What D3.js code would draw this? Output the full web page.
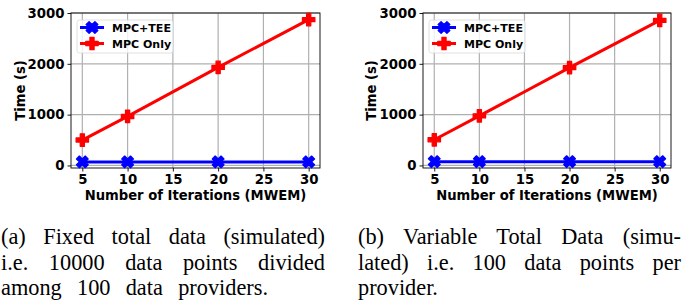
<!DOCTYPE html>
<html>
<head>
<meta charset="utf-8">
<script src="https://cdn.jsdelivr.net/npm/d3@7"></script>
<style>
  body { margin: 0; background: #fff; }
  svg { display: block; }
</style>
</head>
<body>
<svg id="fig"></svg>
<script>
const iterations = [5, 10, 20, 30];
const xTicks = [5, 10, 15, 20, 25, 30];
const yTicks = [0, 1000, 2000, 3000];
const seriesNames = ["MPC+TEE", "MPC Only"];

// (a) fixed total data
const fixedTee = [70, 70, 70, 70];
const fixedMpc = [500, 965, 1930, 2870];
// (b) variable total data
const variableTee = [75, 75, 75, 75];
const variableMpc = [505, 975, 1925, 2855];

const captionA = ["(a) Fixed total data (simulated)", "i.e. 10000 data points divided", "among 100 data providers."];
const captionB = ["(b) Variable Total Data (simu-", "lated) i.e. 100 data points per", "provider."];

const sansFont = "'DejaVu Sans', sans-serif";
const serifFont = "'Liberation Serif', 'Times New Roman', serif";
let fs = {};

// font size that gives str the wanted width, whatever face gets picked
function fitSize(svg, str, family, bold, want) {
  const t = svg.append("text")
    .style("font-family", family)
    .style("font-weight", bold ? "bold" : "normal")
    .style("font-size", "20px")
    .text(str);
  const w = t.node().getComputedTextLength();
  t.remove();
  return 20 * want / w;
}

function main() {
  const width = 692, height = 301;
  const svg = d3.select("#fig").attr("width", width).attr("height", height);

  fs.tick = fitSize(svg, "3000", sansFont, true, 37);
  fs.label = fitSize(svg, "Number of Iterations (MWEM)", sansFont, true, 222);
  fs.legend = fitSize(svg, "MPC+TEE", sansFont, true, 59);
  fs.caption = fitSize(svg, "provider.", serifFont, false, 80);

  drawPanel(svg, {left: 71, right: 320, top: 13, bottom: 168, ylabX: 25},
            [fixedTee, fixedMpc]);
  drawPanel(svg, {left: 423, right: 671, top: 13, bottom: 168, ylabX: 376},
            [variableTee, variableMpc]);

  // last line of (a) is spread too in the original
  drawCaption(svg, captionA, 1, [325, 325, 268]);
  drawCaption(svg, captionB, 358, [681, 681, null]);
}

function drawPanel(svg, box, series) {
  const x = d3.scaleLinear().domain([3.75, 31.25]).range([box.left, box.right]);
  const y = d3.scaleLinear().domain([-50, 3000]).range([box.bottom, box.top]);
  const colors = ["#0000ff", "#ff0000"];
  const g = svg.append("g");

  // grid
  g.append("g").selectAll("line").data(xTicks).join("line")
    .attr("x1", d => x(d)).attr("x2", d => x(d))
    .attr("y1", box.top).attr("y2", box.bottom)
    .attr("stroke", "#b0b0b0").attr("stroke-width", 1.2);
  g.append("g").selectAll("line").data(yTicks).join("line")
    .attr("y1", d => y(d)).attr("y2", d => y(d))
    .attr("x1", box.left).attr("x2", box.right)
    .attr("stroke", "#b0b0b0").attr("stroke-width", 1.2);

  // axes
  const xAxis = g.append("g")
    .attr("transform", `translate(0,${box.bottom})`)
    .call(d3.axisBottom(x).tickValues(xTicks).tickSize(3.5).tickPadding(3));
  const yAxis = g.append("g")
    .attr("transform", `translate(${box.left},0)`)
    .call(d3.axisLeft(y).tickValues(yTicks).tickSize(3.5).tickPadding(3).tickFormat(d3.format("d")));
  [xAxis, yAxis].forEach(a => {
    a.select(".domain").remove();
    a.selectAll("line").attr("stroke", "#000").attr("stroke-width", 0.9);
    a.selectAll("text")
      .attr("fill", "#000")
      .style("font-family", sansFont)
      .style("font-weight", "bold")
      .style("font-size", fs.tick + "px");
  });

  g.append("rect")
    .attr("x", box.left).attr("y", box.top)
    .attr("width", box.right - box.left).attr("height", box.bottom - box.top)
    .attr("fill", "none").attr("stroke", "#000").attr("stroke-width", 0.9);

  // series: filled X for MPC+TEE, filled plus for MPC only
  const line = d3.line().x((d, i) => x(iterations[i])).y(d => y(d));
  const markers = [
    d3.symbol().type(d3.symbolCross).size(85),
    d3.symbol().type(d3.symbolCross).size(85)
  ];
  const rot = k => (k === 0 ? " rotate(45)" : "");
  series.forEach((vals, k) => {
    g.append("path").datum(vals)
      .attr("d", line)
      .attr("fill", "none")
      .attr("stroke", colors[k])
      .attr("stroke-width", 3);
    g.append("g").selectAll("path").data(vals).join("path")
      .attr("d", markers[k])
      .attr("transform", (d, i) => `translate(${x(iterations[i])},${y(d)})` + rot(k))
      .attr("fill", colors[k])
      .attr("stroke", colors[k]).attr("stroke-width", 1.3)
      .attr("stroke-linejoin", "round");
  });

  // legend
  const lg = g.append("g").attr("transform", `translate(${box.left + 6},${box.top + 7})`);
  lg.append("rect")
    .attr("width", 96).attr("height", 33).attr("rx", 2.5)
    .attr("fill", "#fff").attr("fill-opacity", 0.8)
    .attr("stroke", "#d8d8d8").attr("stroke-width", 0.8);
  seriesNames.forEach((name, k) => {
    const ly = 7.5 + k * 16;
    lg.append("line")
      .attr("x1", 3).attr("x2", 27).attr("y1", ly).attr("y2", ly)
      .attr("stroke", colors[k]).attr("stroke-width", 3);
    lg.append("path")
      .attr("d", markers[k])
      .attr("transform", `translate(15,${ly})` + rot(k))
      .attr("fill", colors[k])
      .attr("stroke", colors[k]).attr("stroke-width", 1.3)
      .attr("stroke-linejoin", "round");
    lg.append("text")
      .attr("x", 35).attr("y", ly + 4)
      .style("font-family", sansFont)
      .style("font-weight", "bold")
      .style("font-size", fs.legend + "px")
      .text(name);
  });

  // axis labels
  g.append("text")
    .attr("x", (box.left + box.right) / 2).attr("y", 200)
    .attr("text-anchor", "middle")
    .style("font-family", sansFont)
    .style("font-weight", "bold")
    .style("font-size", fs.label + "px")
    .text("Number of Iterations (MWEM)");
  g.append("text")
    .attr("transform", `translate(${box.ylabX},${(box.top + box.bottom) / 2}) rotate(-90)`)
    .attr("text-anchor", "middle")
    .style("font-family", sansFont)
    .style("font-weight", "bold")
    .style("font-size", fs.label + "px")
    .text("Time (s)");
}

function drawCaption(svg, lines, x0, ends) {
  const baselines = [244, 269.5, 295];
  lines.forEach((txt, i) => {
    const t = svg.append("text")
      .attr("x", x0).attr("y", baselines[i])
      .style("font-family", serifFont)
      .style("font-size", fs.caption + "px")
      .attr("fill", "#000")
      .text(txt);
    const gaps = txt.split(" ").length - 1;
    if (ends[i] !== null && gaps > 0) {
      const natural = t.node().getComputedTextLength();
      t.attr("word-spacing", Math.max(0, (ends[i] - x0 - natural) / gaps));
    }
  });
}

window.addEventListener("load", main);
</script>
</body>
</html>
